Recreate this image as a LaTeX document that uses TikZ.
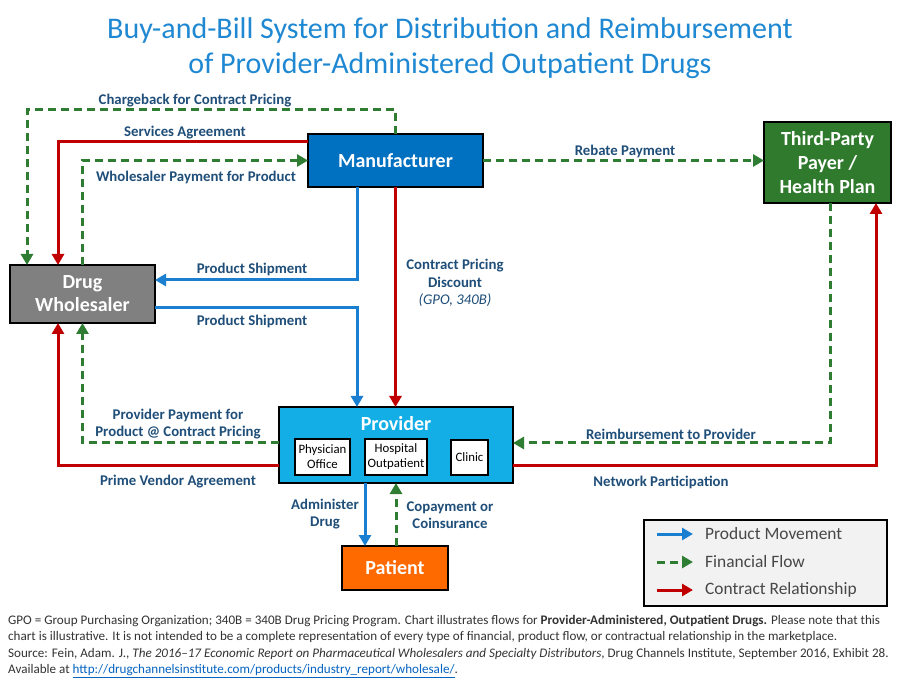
\documentclass[tikz,border=0pt]{standalone}
\usepackage{fontspec}
\setmainfont{Carlito}
\usetikzlibrary{arrows.meta}
\definecolor{titleblue}{HTML}{1F88D2}
\definecolor{lblblue}{HTML}{1F4E79}
\definecolor{manblue}{HTML}{0070C0}
\definecolor{provblue}{HTML}{14AEE6}
\definecolor{payergreen}{HTML}{2F7A2C}
\definecolor{prodblue}{HTML}{1A7FD0}
\definecolor{fingreen}{HTML}{2E7D32}
\definecolor{conred}{HTML}{C00000}
\definecolor{patorange}{HTML}{FF6A00}
\definecolor{notegrey}{HTML}{333333}
\definecolor{linkblue}{HTML}{0563C1}
\tikzset{
  box/.style={draw=black, line width=1.5pt, inner sep=0pt, outer sep=0pt, text=white, align=center,
    font=\fontsize{20}{24}\bfseries\selectfont},
  subbox/.style={draw=black, line width=1.2pt, fill=white, inner sep=0pt, outer sep=0pt, align=center,
    font=\fontsize{12.8}{15}\selectfont},
  lbl/.style={text=lblblue, align=center, inner sep=0pt, font=\fontsize{14.8}{17.5}\bfseries\selectfont},
  prod/.style={draw=prodblue, line width=3pt, -{Triangle[length=11pt,width=12pt]}},
  fin/.style={draw=fingreen, line width=3pt, dash pattern=on 8pt off 5pt, -{Triangle[length=11pt,width=12pt]}},
  contr/.style={draw=conred, line width=3pt, -{Triangle[length=11pt,width=12pt]}},
  legtxt/.style={text=notegrey!90, anchor=west, inner sep=0pt, font=\fontsize{17.4}{18}\selectfont}
}
\begin{document}
\begin{tikzpicture}[x=1pt, y=-1pt, line join=miter]
		\fill[white] (0,0) rectangle (900,700);
		\useasboundingbox (0,0) rectangle (900,700);
		% title
		\node[text=titleblue, align=center, font=\fontsize{30}{35}\selectfont] (title) at (450,48)
		{Buy-and-Bill System for Distribution and Reimbursement\\of Provider-Administered Outpatient Drugs};
		% parties
		\node[box, fill=manblue, minimum width=175pt, minimum height=53pt] (man) at (395.5,160.5) {Manufacturer};
		\node[box, fill=payergreen, minimum width=127pt, minimum height=81pt] (tp) at (827.5,162.5) {Third-Party\\Payer /\\Health Plan};
		\node[box, fill=black!50, minimum width=145pt, minimum height=58pt, font=\fontsize{20}{23}\bfseries\selectfont] (ws) at (82.5,294) {Drug\\Wholesaler};
		\node[box, fill=provblue, minimum width=234pt, minimum height=76pt] (prov) at (396,445) {};
		\node[text=white, font=\fontsize{20}{22}\bfseries\selectfont] (provtxt) at (396,424) {Provider};
		\node[subbox, minimum width=55pt, minimum height=36pt] (phys) at (322.5,457) {Physician\\Office};
		\node[subbox, minimum width=62pt, minimum height=36pt] (hosp) at (396,457) {Hospital\\Outpatient};
		\node[subbox, minimum width=37pt, minimum height=35pt] (clin) at (469.5,457.5) {Clinic};
		\node[box, fill=patorange, minimum width=106pt, minimum height=44pt] (pat) at (395,568) {Patient};
		% flows
		\draw[fin] (man.north) |- (27,110) -- ([xshift=-55.5pt]ws.north);
		\draw[contr] ([yshift=18.5pt]man.west) -| ([xshift=-24.5pt]ws.north);
		\draw[fin] (ws.north) |- (man.west);
		\draw[fin] (man.east) -- (man.east -| tp.west);
		\draw[prod] ([xshift=-38.5pt]man.south) |- ([yshift=14pt]ws.east);
		\draw[prod] ([yshift=-14pt]ws.east) -| ([xshift=-39pt]prov.north);
		\draw[contr] (man.south) -- (man.south |- prov.north);
		\draw[fin] ([yshift=2pt]prov.west) -| (ws.south);
		\draw[contr] ([yshift=-21pt]prov.west) -| ([xshift=-24.5pt]ws.south);
		\draw[fin] ([xshift=2.5pt]tp.south) |- ([yshift=2pt]prov.east);
		\draw[contr] ([yshift=-21pt]prov.east) -| ([xshift=48.5pt]tp.south);
		\draw[prod] ([xshift=-31pt]prov.south) -- ([xshift=-30pt]pat.north);
		\draw[fin] ([xshift=1pt]pat.north) -- (prov.south);
		% flow labels
		\node[lbl] (lcharge) at (195,101) {Chargeback for Contract Pricing};
		\node[lbl] (lserv) at (185,133) {Services Agreement};
		\node[lbl] (lwpay) at (196,177) {Wholesaler Payment for Product};
		\node[lbl] (lrebate) at (625,151) {Rebate Payment};
		\node[lbl] (lship1) at (252,269) {Product Shipment};
		\node[lbl] (lship2) at (252,321) {Product Shipment};
		\node[lbl] (lcontract) at (455,283) {Contract Pricing\\Discount\\{\mdseries\itshape (GPO, 340B)}};
		\node[lbl] (lppay) at (178,424) {Provider Payment for\\Product @ Contract Pricing};
		\node[lbl] (lprime) at (178,482) {Prime Vendor Agreement};
		\node[lbl] (lreimb) at (671,434) {Reimbursement to Provider};
		\node[lbl] (lnet) at (661,482) {Network Participation};
		\node[lbl] (ladmin) at (325,514) {Administer\\Drug};
		\node[lbl] (lcopay) at (450,515) {Copayment or\\Coinsurance};
		% legend
		\node[draw=black, line width=1.5pt, fill=black!5, minimum width=243pt, minimum height=86pt, inner sep=0pt] (legend) at (765.5,563) {};
		\coordinate (pa) at (657,534); \coordinate (pb) at (693,534);
		\coordinate (fa) at (657,562); \coordinate (fb) at (693,562);
		\coordinate (ca) at (657,590); \coordinate (cb) at (693,590);
		\draw[prod] (pa) -- (pb);
		\draw[fin] (fa) -- (fb);
		\draw[contr] (ca) -- (cb);
		\node[legtxt] (lprod) at (705,534) {Product Movement};
		\node[legtxt] (lfin) at (705,562) {Financial Flow};
		\node[legtxt] (lcon) at (705,590) {Contract Relationship};
		% note
		\node[anchor=north west, align=left, inner sep=0pt, text=notegrey, font=\fontsize{13.1}{16.3}\selectfont] (note) at (8,615)
		{GPO = Group Purchasing Organization; 340B = 340B Drug Pricing Program. Chart illustrates flows for \textbf{Provider-Administered, Outpatient Drugs.} Please note that this\\
		chart is illustrative. It is not intended to be a complete representation of every type of financial, product flow, or contractual relationship in the marketplace.\\
		Source: Fein, Adam. J., \textit{The 2016--17 Economic Report on Pharmaceutical Wholesalers and Specialty Distributors}, Drug Channels Institute, September 2016, Exhibit 28.\\
		Available at \textcolor{linkblue}{\underline{http://drugchannelsinstitute.com/products/industry\_report/wholesale/}}.};
\end{tikzpicture}
\end{document}
